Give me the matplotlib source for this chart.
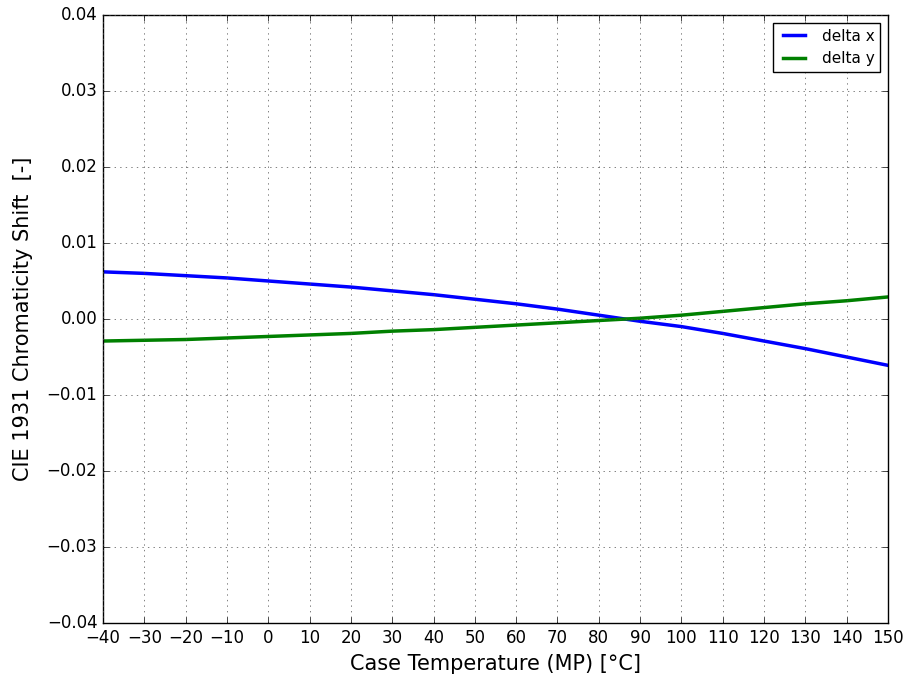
import matplotlib
matplotlib.use('Agg')

import numpy as np
import matplotlib.pyplot as plt

plt.style.use('classic')

# Case temperature (degC)
temp = [-40, -30, -20, -10, 0, 10, 20, 30, 40, 50, 60, 70, 80, 90, 100, 110, 120, 130, 140, 150]

# CIE 1931 chromaticity shift
delta_x = [0.0062, 0.0060, 0.0057, 0.0054, 0.0050, 0.0046, 0.0042, 0.0037, 0.0032, 0.0026,
           0.0020, 0.0013, 0.0005, -0.0003, -0.0010, -0.0019, -0.0029, -0.0039, -0.0050, -0.0061]
delta_y = [-0.0029, -0.0028, -0.0027, -0.0025, -0.0023, -0.0021, -0.0019, -0.0016, -0.0014, -0.0011,
           -0.0008, -0.0005, -0.0002, 0.0001, 0.0005, 0.0010, 0.0015, 0.0020, 0.0024, 0.0029]

fig = plt.figure(figsize=(9.09, 6.8), dpi=100, facecolor='white')
ax = fig.add_axes([0.1133, 0.0838, 0.8636, 0.8942])

ax.plot(temp, delta_x, color='b', linewidth=2.5, label='delta x')
ax.plot(temp, delta_y, color='g', linewidth=2.5, label='delta y')

ax.set_xlim(-40, 150)
ax.set_ylim(-0.04, 0.04)
ax.set_xticks(np.arange(-40, 151, 10))
ax.set_yticks(np.arange(-0.04, 0.041, 0.01))
ax.grid(True, color='0.3')

ax.set_xlabel('Case Temperature (MP) [°C]', fontsize=15)
ax.set_ylabel('CIE 1931 Chromaticity Shift  [-]', fontsize=15, labelpad=10)
ax.legend(loc='upper right', fontsize=11)

fig.savefig('out.png', dpi=100, facecolor='white')
